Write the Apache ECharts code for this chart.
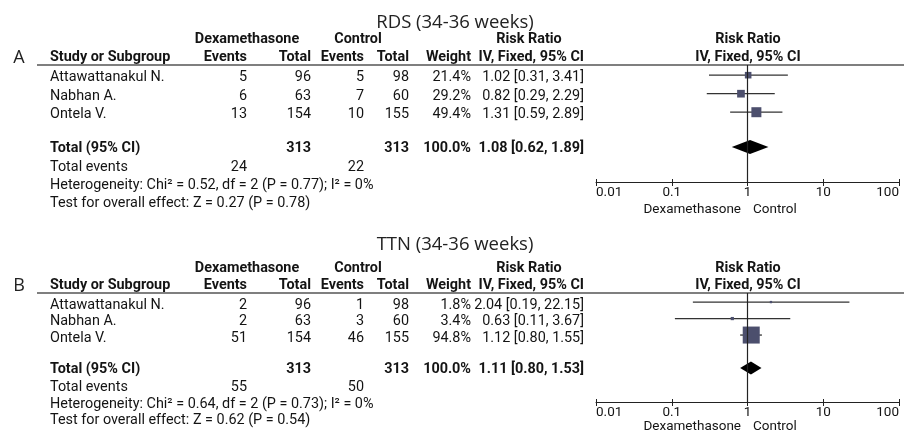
<!DOCTYPE html>
<html>
<head>
<meta charset="utf-8">
<script src="https://cdn.jsdelivr.net/npm/echarts@6/dist/echarts.min.js"></script>
<style>
  html, body { margin: 0; padding: 0; background: #fff; }
  #chart { width: 904px; height: 432px; }
</style>
</head>
<body>
<div id="chart"></div>
<script>
// ---------- data ----------
const studies = ['Attawattanakul N.', 'Nabhan A.', 'Ontela V.'];

// RDS (34-36 weeks)
const rdsDexEvents = [5, 6, 13];
const rdsDexTotal  = [96, 63, 154];
const rdsCtlEvents = [5, 7, 10];
const rdsCtlTotal  = [98, 60, 155];
const rdsWeight    = [21.4, 29.2, 49.4];
const rdsRR        = [1.02, 0.82, 1.31];
const rdsLow       = [0.31, 0.29, 0.59];
const rdsHigh      = [3.41, 2.29, 2.89];
const rdsPooled    = [1.08, 0.62, 1.89];      // RR, low, high
const rdsTotals    = [24, 313, 22, 313];      // dex events, dex total, ctl events, ctl total
const rdsHetero    = 'Heterogeneity: Chi\u00b2 = 0.52, df = 2 (P = 0.77); I\u00b2 = 0%';
const rdsOverall   = 'Test for overall effect: Z = 0.27 (P = 0.78)';

// TTN (34-36 weeks)
const ttnDexEvents = [2, 2, 51];
const ttnDexTotal  = [96, 63, 154];
const ttnCtlEvents = [1, 3, 46];
const ttnCtlTotal  = [98, 60, 155];
const ttnWeight    = [1.8, 3.4, 94.8];
const ttnRR        = [2.04, 0.63, 1.12];
const ttnLow       = [0.19, 0.11, 0.80];
const ttnHigh      = [22.15, 3.67, 1.55];
const ttnPooled    = [1.11, 0.80, 1.53];
const ttnTotals    = [55, 313, 50, 313];
const ttnHetero    = 'Heterogeneity: Chi\u00b2 = 0.64, df = 2 (P = 0.73); I\u00b2 = 0%';
const ttnOverall   = 'Test for overall effect: Z = 0.62 (P = 0.54)';

const tickValues = [0.01, 0.1, 1, 10, 100];
const tickLabels = ['0.01', '0.1', '1', '10', '100'];

// ---------- layout ----------
const FONT = 'Roboto, sans-serif';
const FS = 14.4;        // table text
const FS_AXIS = 13.5;   // forest axis text
const TITLE_FONT = '"Open Sans", sans-serif';
const INK = '#141414';
const BOX = '#4c4f6d';
const DY = 1;           // optical shift for table text

const panels = [
  {
    letter: 'A', title: 'RDS (34-36 weeks)',
    dexE: rdsDexEvents, dexT: rdsDexTotal, ctlE: rdsCtlEvents, ctlT: rdsCtlTotal,
    w: rdsWeight, rr: rdsRR, lo: rdsLow, hi: rdsHigh, pooled: rdsPooled, totals: rdsTotals,
    hetero: rdsHetero, overall: rdsOverall,
    L: { title: 23, hdr1: 38, hdr2: 56, rule: 65, axis: 182, yMin: -0.55, yMax: 5.77,
         totalRow: 3.88, evY: 166, hetY: 184, testY: 202, sideY: 210, maxBox: 10, dH: 7, textDy: 1.5 }
  },
  {
    letter: 'B', title: 'TTN (34-36 weeks)',
    dexE: ttnDexEvents, dexT: ttnDexTotal, ctlE: ttnCtlEvents, ctlT: ttnCtlTotal,
    w: ttnWeight, rr: ttnRR, lo: ttnLow, hi: ttnHigh, pooled: ttnPooled, totals: ttnTotals,
    hetero: ttnHetero, overall: ttnOverall,
    L: { title: 245, hdr1: 267, hdr2: 284, rule: 293, axis: 402, yMin: -0.55, yMax: 6.06,
         totalRow: 4.0, evY: 386, hetY: 403, testY: 419, sideY: 427, maxBox: 17, dH: 6.5, textDy: 2 }
  }
];

// column anchors
const COL = { letter: 19, study: 50, dexE: 247, dexT: 311, ctlE: 364, ctlT: 409, weight: 471,
              ci: 584, rrHead: 529, dexHead: 247, ctlHead: 358, plotL: 596, plotR: 899, plotMid: 748 };

function txt(x, y, text, align, bold, size, font, color) {
  return {
    type: 'text', x: x, y: y, silent: true,
    style: {
      text: String(text), align: align, verticalAlign: 'middle',
      font: (bold ? 'bold ' : '') + (size || FS) + 'px ' + (font || FONT),
      fill: color || INK
    }
  };
}

function fmtCI(r, l, h) {
  return r.toFixed(2) + ' [' + l.toFixed(2) + ', ' + h.toFixed(2) + ']';
}

function tickText(v) {
  let best = 0;
  tickValues.forEach((t, i) => {
    if (Math.abs(Math.log10(t) - Math.log10(v)) < Math.abs(Math.log10(tickValues[best]) - Math.log10(v))) best = i;
  });
  return tickLabels[best];
}

const graphics = [];
const grids = [], xAxes = [], yAxes = [], series = [];

panels.forEach((p, k) => {
  const L = p.L;
  const top = L.rule, height = L.axis - L.rule;
  const yPix = v => top + (v - L.yMin) * height / (L.yMax - L.yMin);

  // titles and headers
  graphics.push(txt(455, L.title, p.title, 'center', false, 18.5, TITLE_FONT, '#222'));
  graphics.push(txt(COL.letter, L.hdr2 + 2, p.letter, 'center', false, 18, TITLE_FONT, '#222'));
  graphics.push(txt(COL.dexHead, L.hdr1 + DY, 'Dexamethasone', 'center', true));
  graphics.push(txt(COL.ctlHead, L.hdr1 + DY, 'Control', 'center', true));
  graphics.push(txt(COL.rrHead, L.hdr1 + DY, 'Risk Ratio', 'center', true));
  graphics.push(txt(COL.plotMid, L.hdr1 + DY, 'Risk Ratio', 'center', true));
  graphics.push(txt(COL.study, L.hdr2 + DY, 'Study or Subgroup', 'left', true));
  graphics.push(txt(COL.dexE, L.hdr2 + DY, 'Events', 'right', true));
  graphics.push(txt(COL.dexT, L.hdr2 + DY, 'Total', 'right', true));
  graphics.push(txt(COL.ctlE, L.hdr2 + DY, 'Events', 'right', true));
  graphics.push(txt(COL.ctlT, L.hdr2 + DY, 'Total', 'right', true));
  graphics.push(txt(COL.weight, L.hdr2 + DY, 'Weight', 'right', true));
  graphics.push(txt(COL.ci, L.hdr2 + DY, 'IV, Fixed, 95% CI', 'right', true));
  graphics.push(txt(COL.plotMid, L.hdr2 + DY, 'IV, Fixed, 95% CI', 'center', true));
  graphics.push({
    type: 'line', silent: true,
    shape: { x1: 37, y1: L.rule, x2: 904, y2: L.rule },
    style: { stroke: '#555', lineWidth: 1.6 }
  });

  // study rows
  studies.forEach((s, i) => {
    const y = yPix(i) + L.textDy + DY;
    graphics.push(txt(COL.study, y, s, 'left'));
    graphics.push(txt(COL.dexE, y, p.dexE[i], 'right'));
    graphics.push(txt(COL.dexT, y, p.dexT[i], 'right'));
    graphics.push(txt(COL.ctlE, y, p.ctlE[i], 'right'));
    graphics.push(txt(COL.ctlT, y, p.ctlT[i], 'right'));
    graphics.push(txt(COL.weight, y, p.w[i].toFixed(1) + '%', 'right'));
    graphics.push(txt(COL.ci, y, fmtCI(p.rr[i], p.lo[i], p.hi[i]), 'right'));
  });

  // pooled row
  const ty = yPix(L.totalRow) + DY;
  const wSum = p.w.reduce((a, b) => a + b, 0);
  graphics.push(txt(COL.study, ty, 'Total (95% CI)', 'left', true));
  graphics.push(txt(COL.dexT, ty, p.totals[1], 'right', true));
  graphics.push(txt(COL.ctlT, ty, p.totals[3], 'right', true));
  graphics.push(txt(COL.weight, ty, wSum.toFixed(1) + '%', 'right', true));
  graphics.push(txt(COL.ci, ty, fmtCI(p.pooled[0], p.pooled[1], p.pooled[2]), 'right', true));
  graphics.push(txt(COL.study, L.evY + DY, 'Total events', 'left'));
  graphics.push(txt(COL.dexE, L.evY + DY, p.totals[0], 'right'));
  graphics.push(txt(COL.ctlE, L.evY + DY, p.totals[2], 'right'));
  graphics.push(txt(COL.study, L.hetY + DY, p.hetero, 'left'));
  graphics.push(txt(COL.study, L.testY + DY, p.overall, 'left'));

  // favours labels under the axis
  graphics.push(txt(COL.plotMid - 7, L.sideY, 'Dexamethasone', 'right', false, FS_AXIS));
  graphics.push(txt(COL.plotMid + 5, L.sideY, 'Control', 'left', false, FS_AXIS));

  // forest plot coordinate system
  grids.push({ left: COL.plotL, width: COL.plotR - COL.plotL, top: top, height: height, containLabel: false });
  const baseAxis = {
    type: 'log', logBase: 10, min: 0.01, max: 100, gridIndex: k, position: 'bottom',
    splitLine: { show: false }, minorTick: { show: false }
  };
  xAxes.push(Object.assign({}, baseAxis, {
    axisLine: { show: true, onZero: false, lineStyle: { color: '#222', width: 1 } },
    axisTick: { show: true, inside: false, length: 4, lineStyle: { color: '#222', width: 1 } },
    axisLabel: { show: true, margin: 4, fontSize: FS_AXIS, fontFamily: FONT, color: INK,
                 alignMinLabel: 'left', alignMaxLabel: 'right', formatter: tickText }
  }));
  xAxes.push(Object.assign({}, baseAxis, {
    axisLine: { show: false, onZero: false },
    axisTick: { show: true, inside: true, length: 3, lineStyle: { color: '#222', width: 1 } },
    axisLabel: { show: false }
  }));
  yAxes.push({ type: 'value', gridIndex: k, inverse: true, min: L.yMin, max: L.yMax, show: false });

  const xi = 2 * k;
  const wMax = Math.max.apply(null, p.w);

  // line of no effect
  series.push({
    type: 'scatter', xAxisIndex: xi, yAxisIndex: k, data: [], z: 1, silent: true,
    markLine: {
      symbol: 'none', silent: true, animation: false, label: { show: false },
      lineStyle: { color: '#222', width: 1.2, type: 'solid' },
      data: [{ xAxis: 1 }]
    }
  });

  // individual study estimates
  series.push({
    type: 'custom', xAxisIndex: xi, yAxisIndex: k, z: 3, silent: true, animation: false,
    data: p.rr.map((r, i) => [r, p.lo[i], p.hi[i], i, p.w[i]]),
    encode: { x: [0, 1, 2], y: 3 },
    renderItem: function (params, api) {
      const row = api.value(3);
      const a = api.coord([api.value(1), row]);
      const b = api.coord([api.value(2), row]);
      const c = api.coord([api.value(0), row]);
      const s = Math.max(2, L.maxBox * Math.sqrt(api.value(4) / wMax));
      return {
        type: 'group',
        children: [
          { type: 'line', shape: { x1: a[0], y1: a[1], x2: b[0], y2: b[1] },
            style: { stroke: '#333', lineWidth: 1.3 } },
          { type: 'rect', shape: { x: c[0] - s / 2, y: c[1] - s / 2, width: s, height: s },
            style: { fill: BOX } }
        ]
      };
    }
  });

  // pooled estimate diamond
  series.push({
    type: 'custom', xAxisIndex: xi, yAxisIndex: k, z: 3, silent: true, animation: false,
    data: [[p.pooled[0], p.pooled[1], p.pooled[2], L.totalRow]],
    encode: { x: [0, 1, 2], y: 3 },
    renderItem: function (params, api) {
      const row = api.value(3);
      const l = api.coord([api.value(1), row]);
      const r = api.coord([api.value(2), row]);
      const c = api.coord([api.value(0), row]);
      return {
        type: 'polygon',
        shape: { points: [[l[0], c[1]], [c[0], c[1] - L.dH], [r[0], c[1]], [c[0], c[1] + L.dH]] },
        style: { fill: '#000' }
      };
    }
  });
});

const chart = echarts.init(document.getElementById('chart'), null, { renderer: 'canvas' });
chart.setOption({
  backgroundColor: '#fff',
  animation: false,
  grid: grids,
  xAxis: xAxes,
  yAxis: yAxes,
  series: series,
  graphic: graphics
});
</script>
</body>
</html>
